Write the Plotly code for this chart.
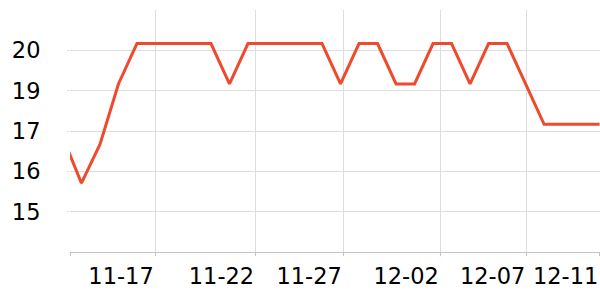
import plotly.graph_objects as go

# Data
dates = ["2023-11-12", "2023-11-13", "2023-11-14", "2023-11-15", "2023-11-16",
         "2023-11-17", "2023-11-18", "2023-11-19", "2023-11-20", "2023-11-21",
         "2023-11-22", "2023-11-23", "2023-11-24", "2023-11-25", "2023-11-26",
         "2023-11-27", "2023-11-28", "2023-11-29", "2023-11-30", "2023-12-01",
         "2023-12-02", "2023-12-03", "2023-12-04", "2023-12-05", "2023-12-06",
         "2023-12-07", "2023-12-08", "2023-12-09", "2023-12-10", "2023-12-11"]
values = [17.2, 15.85, 17.0, 18.8, 20.0,
          20.0, 20.0, 20.0, 20.0, 18.8,
          20.0, 20.0, 20.0, 20.0, 20.0,
          18.8, 20.0, 20.0, 18.8, 18.8,
          20.0, 20.0, 18.8, 20.0, 20.0,
          18.8, 17.6, 17.6, 17.6, 17.6]

x_tickvals = ["2023-11-12 09:10", "2023-11-16 23:28", "2023-11-22 09:43",
              "2023-11-27 03:23", "2023-12-02 09:13", "2023-12-07 01:18",
              "2023-12-11 00:00"]
x_ticktext = ["", "11-17", "11-22", "11-27", "12-02", "12-07", "12-11"]

y_tickvals = [15.0, 16.2, 17.4, 18.6, 19.8]
y_ticktext = ["15", "16", "17", "19", "20"]

fig = go.Figure()
fig.add_trace(go.Scatter(
    x=dates, y=values, mode="lines",
    line=dict(color="#ee4a2c", width=3),
    hoverinfo="skip", showlegend=False,
))

font = dict(family="DejaVu Sans", size=22.5, color="#000000")

fig.update_layout(
    width=600, height=300,
    margin=dict(l=70, r=0, t=10, b=48),
    paper_bgcolor="white", plot_bgcolor="white",
    showlegend=False,
)
fig.update_xaxes(
    type="date",
    range=["2023-11-12 09:10", "2023-12-11 00:30"],
    tickmode="array", tickvals=x_tickvals, ticktext=x_ticktext,
    showgrid=True, gridcolor="#dddddd", gridwidth=1,
    showline=True, linecolor="#c4c4c4", linewidth=1,
    ticks="outside", ticklen=3, tickcolor="#c4c4c4",
    tickfont=font, ticklabelshift=-34, ticklabelstandoff=1,
    zeroline=False,
)
fig.update_yaxes(
    range=[13.8, 21.0],
    tickmode="array", tickvals=y_tickvals, ticktext=y_ticktext,
    showgrid=True, gridcolor="#dddddd", gridwidth=1,
    showline=False,
    ticks="outside", ticklen=2, tickcolor="#dddddd",
    tickfont=font, ticklabelstandoff=22,
    zeroline=False,
)

fig.write_html("out.html")
